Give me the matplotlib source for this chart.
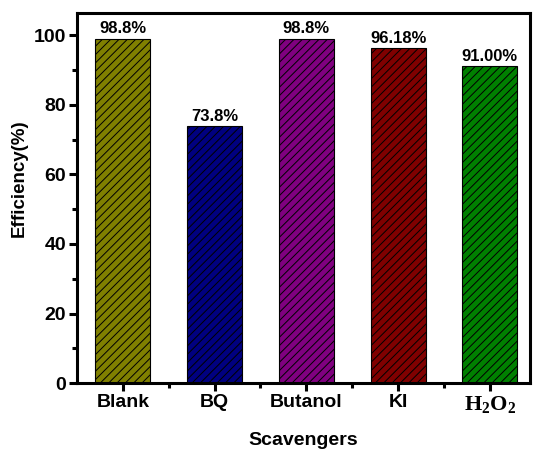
import matplotlib
matplotlib.use("Agg")
import matplotlib.pyplot as plt
from matplotlib.ticker import MultipleLocator, FixedLocator

plt.rcParams['font.family'] = ['Liberation Sans', 'DejaVu Sans']
plt.rcParams['font.weight'] = 'bold'
plt.rcParams['mathtext.fontset'] = 'custom'
plt.rcParams['mathtext.rm'] = 'Liberation Serif'
plt.rcParams['mathtext.bf'] = 'Liberation Serif:bold'
plt.rcParams['hatch.linewidth'] = 0.7

categories = ["Blank", "BQ", "Butanol", "KI", r"$\mathbf{H_2O_2}$"]
efficiency = [98.8, 73.8, 98.8, 96.18, 91.00]
value_labels = ["98.8%", "73.8%", "98.8%", "96.18%", "91.00%"]
colors = ["#808000", "#000080", "#800080", "#800000", "#008000"]

fig = plt.figure(figsize=(5.35, 4.54), dpi=100)
ax = fig.add_axes([0.144, 0.156, 0.847, 0.815])

x = list(range(len(categories)))
bars = ax.bar(x, efficiency, width=0.6, color=colors, edgecolor="black",
              linewidth=0.8, hatch="////", zorder=2)

for xi, v, lab in zip(x, efficiency, value_labels):
    ax.text(xi, v + 0.8, lab, ha="center", va="bottom",
            fontsize=12, fontweight="bold")

ax.set_xlim(-0.5, 4.44)
ax.set_ylim(0, 106.3)
ax.set_xticks(x)
ax.set_xticklabels(categories, fontsize=14, fontweight="bold")
ax.get_xticklabels()[-1].set_fontsize(16)
ax.xaxis.set_minor_locator(FixedLocator([0.5, 1.5, 2.5, 3.5]))
ax.yaxis.set_major_locator(MultipleLocator(20))
ax.yaxis.set_minor_locator(MultipleLocator(10))
ax.tick_params(axis="y", labelsize=14)
ax.tick_params(which="major", direction="out", length=6, width=2.2, pad=2)
ax.tick_params(which="minor", direction="out", length=3.5, width=2.2)

for sp in ax.spines.values():
    sp.set_linewidth(2.2)

ax.set_xlabel("Scavengers", fontsize=14, fontweight="bold", labelpad=12)
ax.set_ylabel("Efficiency(%)", fontsize=13.5, fontweight="bold")
ax.yaxis.set_label_coords(-0.108, 0.555)

fig.savefig("out.png", dpi=100)
